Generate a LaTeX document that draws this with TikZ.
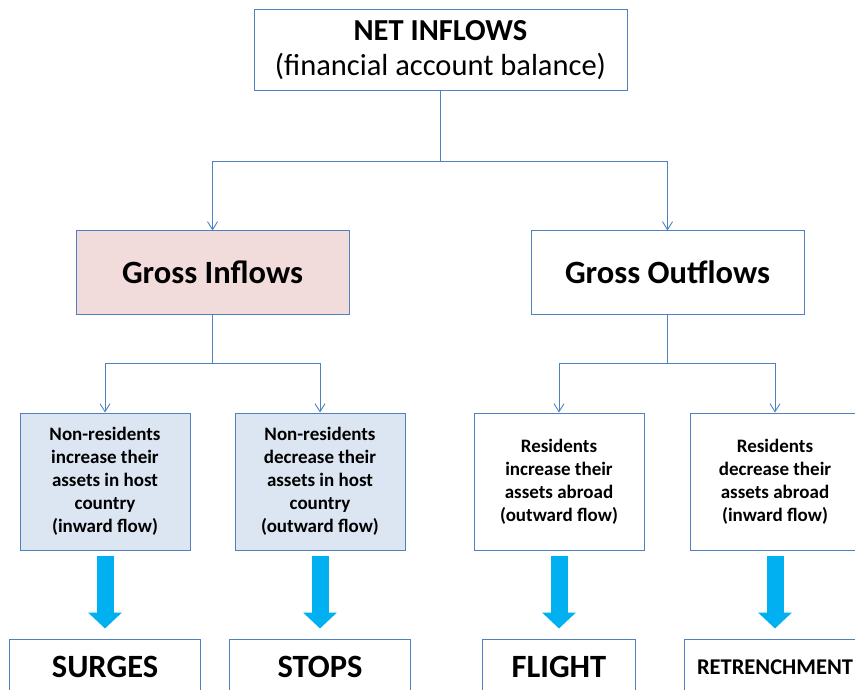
\documentclass[tikz,border=0pt]{standalone}
\usepackage{fontspec}
\setmainfont{Carlito}
\usetikzlibrary{arrows.meta}
\definecolor{boxline}{HTML}{4F81BD}
\definecolor{pinkfill}{HTML}{F2DCDB}
\definecolor{bluefill}{HTML}{DCE6F2}
\definecolor{arrowblue}{HTML}{00B0F0}
\newcommand{\toptext}{\fontsize{30.5}{35}\selectfont}
\newcommand{\bigtext}{\fontsize{32.5}{36}\selectfont\bfseries}
\newcommand{\smalltext}{\fontsize{19}{23}\selectfont\bfseries}

\begin{document}
\begin{tikzpicture}[x=1pt,y=-1pt,
		box/.style={draw=boxline,line width=1pt,inner sep=0pt,align=center},
		grossbox/.style={box,minimum width=273pt,minimum height=83pt,font=\bigtext},
		smallbox/.style={box,minimum width=170pt,minimum height=137pt,font=\smalltext},
		resultbox/.style={box,minimum height=56pt,font=\bigtext},
		line/.style={draw=boxline,line width=0.9pt},
		link/.style={line,-{Straight Barb[length=8pt,width=10pt]}},
		bigarrow/.style={draw=arrowblue,line width=17pt,-{Triangle[length=16pt,width=33pt]}}]
	\useasboundingbox (0,0) rectangle (855,690);
	\clip (0,0) rectangle (855,690);
	
	% top
	\node[box,minimum width=373pt,minimum height=81pt,font=\toptext] (net) at (440.5,50.5)
	{\textbf{NET INFLOWS}\\(financial account balance)};
	
	% gross flows
	\node[grossbox,fill=pinkfill] (gin) at (212.5,272.5) {Gross Inflows};
	\node[grossbox] (gout) at (667.5,272.5) {Gross Outflows};
	
	% the four cases
	\node[smallbox,fill=bluefill] (s1) at (105,481.5)
	{Non-residents\\increase their\\assets in host\\country\\(inward flow)};
	\node[smallbox,fill=bluefill] (s2) at (320,481.5)
	{Non-residents\\decrease their\\assets in host\\country\\(outward flow)};
	\node[smallbox] (s3) at (559,481.5)
	{Residents\\increase their\\assets abroad\\(outward flow)};
	\node[smallbox] (s4) at (775,481.5)
	{Residents\\decrease their\\assets abroad\\(inward flow)};
	
	% results
	\node[resultbox,minimum width=191pt] (r1) at (105,667) {SURGES};
	\node[resultbox,minimum width=181pt] (r2) at (320,667) {STOPS};
	\node[resultbox,minimum width=153pt] (r3) at (559,667) {FLIGHT};
	\node[resultbox,minimum width=182pt,font=\fontsize{22.5}{26}\selectfont\bfseries] (r4) at (775,667) {RETRENCHMENT};
	
	% tree
	\coordinate (netj) at (440.5,161);
	\draw[line] (net.south) -- (netj);
	\draw[link] (netj) -| (gin.north);
	\draw[link] (netj) -| (gout.north);
	\foreach \g/\x/\a/\b in
	{gin/212.5/s1/s2, gout/667.5/s3/s4}{
		\coordinate (\g j) at (\x,363);
		\draw[line] (\g.south) -- (\g j);
		\draw[link] (\g j) -| (\a.north);
		\draw[link] (\g j) -| (\b.north);
	}
	
	% big arrows
	\foreach \s/\r in
	{s1/r1, s2/r2, s3/r3, s4/r4}{
		\draw[bigarrow] ([yshift=-5pt]\s.south) -- ([yshift=10pt]\r.north);
	}
\end{tikzpicture}
\end{document}
